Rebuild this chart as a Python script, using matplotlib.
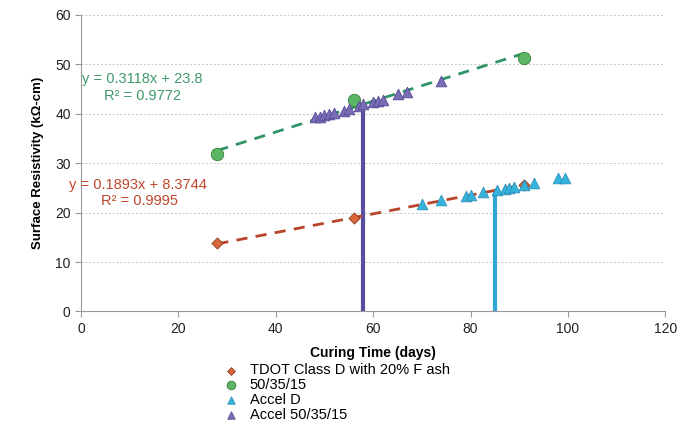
import matplotlib.pyplot as plt
import numpy as np

plt.rcParams['font.family'] = ['Liberation Sans', 'DejaVu Sans']

# data
tdot_x = [28, 56, 91]
tdot_y = [13.9, 18.8, 25.6]
mix_x = [28, 56, 91]
mix_y = [31.8, 42.8, 51.3]
acd_x = [70, 74, 79, 80, 82.5, 85.5, 87, 88, 89, 91, 93, 98, 99.5]
acd_y = [21.8, 22.5, 23.3, 23.5, 24.1, 24.5, 24.8, 25.0, 25.2, 25.6, 25.9, 26.9, 26.9]
acm_x = [48, 49, 50, 51, 52, 54, 55, 57, 58, 60, 61, 62, 65, 67, 74]
acm_y = [39.2, 39.4, 39.7, 40.0, 40.2, 40.6, 41.0, 41.6, 42.0, 42.3, 42.6, 42.8, 44.0, 44.4, 46.6]

# trendline coefficients shown on the chart
tdot_fit = (0.1893, 8.3744)
mix_fit = (0.3118, 23.8)

# drop lines (accelerated equivalent age)
acm_drop = (58, 41.4)
acd_drop = (85, 24.5)

c_red = '#d9663a'
c_green = '#5cb562'
c_cyan = '#35b3dc'
c_purple = '#7a6db5'

fig = plt.figure(figsize=(6.93, 4.23), dpi=100)
ax = fig.add_axes([0.117, 0.2636, 0.843, 0.702])

ax.vlines(acm_drop[0], 0, acm_drop[1], color='#5a4c9e', lw=3, zorder=2)
ax.vlines(acd_drop[0], 0, acd_drop[1], color='#30a6d6', lw=3, zorder=2)

xs = np.array([tdot_x[0], tdot_x[-1]])
ax.plot(xs, tdot_fit[0] * xs + tdot_fit[1], ls=(0, (4, 3)), color='#b8442a', lw=2, zorder=3)
xs = np.array([mix_x[0], mix_x[-1]])
ax.plot(xs, mix_fit[0] * xs + mix_fit[1], ls=(0, (4, 3)), color='#2f9468', lw=2, zorder=3)

ax.scatter(tdot_x, tdot_y, marker='D', s=32, color=c_red, edgecolor='#8a3a20', lw=0.6, zorder=4,
           label='TDOT Class D with 20% F ash')
ax.scatter(mix_x, mix_y, marker='o', s=80, color=c_green, edgecolor='#3a8040', lw=0.6, zorder=4,
           label='50/35/15')
ax.scatter(acd_x, acd_y, marker='^', s=60, color=c_cyan, edgecolor='#2a8ab0', lw=0.5, zorder=5,
           label='Accel D')
ax.scatter(acm_x, acm_y, marker='^', s=60, color=c_purple, edgecolor='#4e4290', lw=0.5, zorder=5,
           label='Accel 50/35/15')

ax.text(12.5, 47.0, 'y = 0.3118x + 23.8', color='#3f9a6a', fontsize=10.5, ha='center', va='center')
ax.text(12.6, 43.6, 'R² = 0.9772', color='#3f9a6a', fontsize=10.5, ha='center', va='center')
ax.text(11.7, 25.6, 'y = 0.1893x + 8.3744', color='#c0462c', fontsize=10.5, ha='center', va='center')
ax.text(12.1, 22.3, 'R² = 0.9995', color='#c0462c', fontsize=10.5, ha='center', va='center')

ax.set_xlim(0, 120)
ax.set_ylim(0, 60)
ax.set_xticks(range(0, 121, 20))
ax.set_yticks(range(0, 61, 10))
ax.tick_params(labelsize=10, length=4, width=0.8, direction='out')
ax.tick_params(axis='both', colors='#999999', labelcolor='#222222')
for s in ['top', 'right']:
    ax.spines[s].set_visible(False)
for s in ['left', 'bottom']:
    ax.spines[s].set_color('#999999')
ax.grid(axis='y', color='#c4c4c4', ls=(0, (2, 2)), lw=0.7)
ax.set_axisbelow(True)

ax.set_xlabel('Curing Time (days)', fontsize=10, fontweight='bold', labelpad=7)
ax.set_ylabel('Surface Resistivity (kΩ-cm)', fontsize=9.5, fontweight='bold', labelpad=8)

fig.legend(loc='upper left', bbox_to_anchor=(0.314, 0.158), frameon=False, fontsize=10.5,
           handlelength=0.8, handletextpad=0.9, labelspacing=0.05, borderpad=0, markerscale=0.7)

plt.savefig('out.png', dpi=100)
